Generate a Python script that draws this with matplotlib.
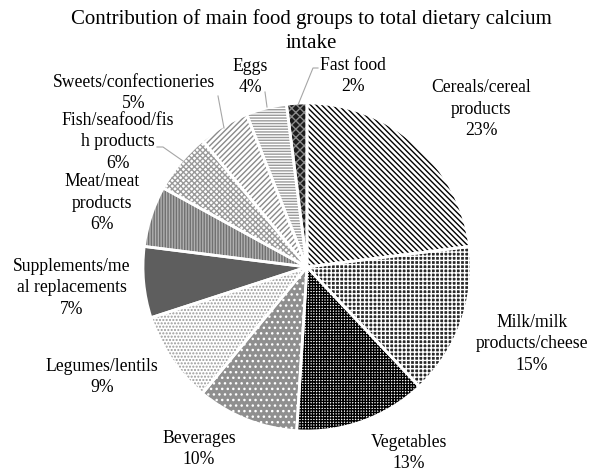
import matplotlib
matplotlib.use("Agg")
import matplotlib.pyplot as plt
from matplotlib.lines import Line2D

plt.rcParams['font.family'] = ['Liberation Serif', 'DejaVu Serif']
plt.rcParams['hatch.linewidth'] = 1.0

# ---- data ----
categories = ["Cereals/cereal\nproducts", "Milk/milk\nproducts/cheese", "Vegetables",
              "Beverages", "Legumes/lentils", "Supplements/me\nal replacements",
              "Meat/meat\nproducts", "Fish/seafood/fis\nh products",
              "Sweets/confectioneries", "Eggs", "Fast food"]
values = [23, 15, 13, 10, 9, 7, 6, 6, 5, 4, 2]

# ---- styles ----
faces = ['white', '#2a2a2a', 'white', '#8f8f8f', 'white', '#5e5e5e',
         '#b0b0b0', 'white', 'white', 'white', '#1c1c1c']
hatch_colors = ['black', 'white', 'black', 'white', '#9a9a9a', '#5e5e5e',
                '#707070', '#9a9a9a', '#8a8a8a', '#9a9a9a', '#8a8a8a']
hatches = ['\\\\\\\\\\\\', '++++', '++++++', '...', '.....', None,
           '||||||', 'xxxxxx', '//////', '------', 'xxxx']

W, H = 601, 472
fig = plt.figure(figsize=(W / 100, H / 100), dpi=100)
cx, cy, r = 307, 267, 164
ax = fig.add_axes([(cx - r) / W, (H - cy - r) / H, 2 * r / W, 2 * r / H])

wedges, _ = ax.pie(values, startangle=90, counterclock=False, radius=1,
                   wedgeprops=dict(linewidth=0))
for w, fc, hc, h in zip(wedges, faces, hatch_colors, hatches):
    w.set_facecolor(fc)
    w.set_edgecolor(hc)
    w.set_linewidth(0)
    if h:
        w.set_hatch(h)

ax.pie(values, startangle=90, counterclock=False, radius=1,
       wedgeprops=dict(linewidth=2, edgecolor='white', facecolor='none'))
ax.set_xlim(-1, 1)
ax.set_ylim(-1, 1)
ax.set_aspect('equal')
ax.axis('off')

def fx(px):
    return px / W

def fy(py):
    return 1 - py / H

# title
fig.text(fx(311), fy(31), "Contribution of main food groups to total dietary calcium\nintake",
         ha='center', va='center', fontsize=15, linespacing=1.3)

# label positions (pixel centers)
label_pos = [(481, 109), (532, 344), (409, 453), (199, 449), (102, 377), (72, 288),
             (102, 203), (118, 142), (134, 93), (250, 77), (353, 76)]
for cat, v, (px, py) in zip(categories, values, label_pos):
    fig.text(fx(px), fy(py), f"{cat}\n{v}%", ha='center', va='center',
             fontsize=12.7, linespacing=1.36)

# leader lines
leaders = [
    [(157, 147), (163, 147), (183, 161)],
    [(218, 96), (224, 128)],
    [(265, 92), (267, 107)],
    [(318, 68), (313, 68), (298, 105)],
]
for pts in leaders:
    xs = [fx(p[0]) for p in pts]
    ys = [fy(p[1]) for p in pts]
    fig.add_artist(Line2D(xs, ys, color='#a6a6a6', linewidth=0.8))

fig.savefig("out.png", dpi=100)
